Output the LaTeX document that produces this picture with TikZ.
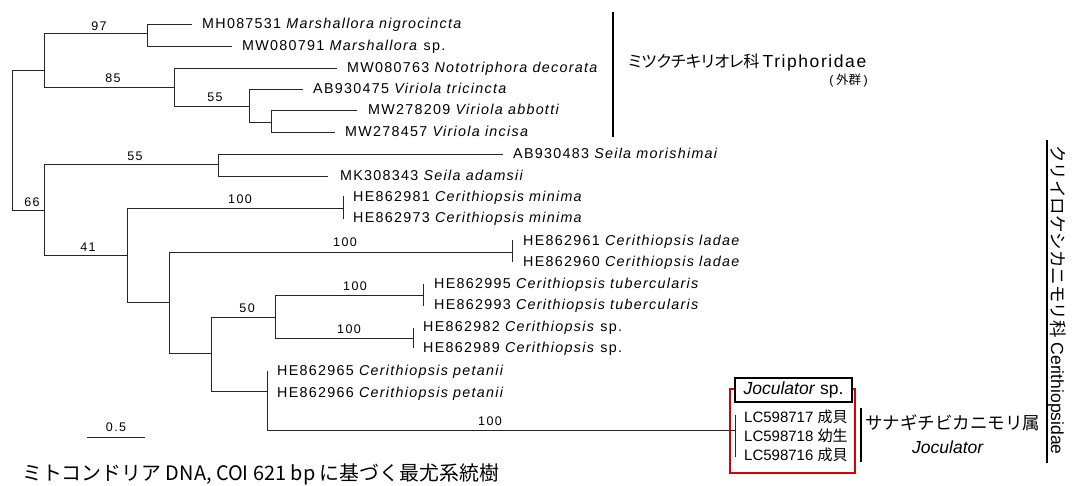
\documentclass[tikz,border=0pt]{standalone}
\usepackage{fontspec}
\setmainfont{Liberation Sans}
\newfontfamily\jp{Noto Sans CJK JP}
\newfontfamily\jpp[RawFeature=+palt]{Noto Sans CJK JP}
\newfontfamily\bsfont[LetterSpace=12]{Liberation Sans}
\newfontfamily\lsfont[LetterSpace=9]{Liberation Sans}
\begin{document}
\begin{tikzpicture}[x=1pt,y=-1pt,
  br/.style={line width=0.9pt,black!85},
  bar/.style={line width=1.8pt,black},
  leaf/.style={anchor=base west,inner sep=0pt,font=\lsfont\fontsize{14.3}{14.3}\selectfont},
  bs/.style={anchor=base,inner sep=0pt,font=\bsfont\fontsize{12.5}{12.5}\selectfont},
  big/.style={inner sep=0pt,font=\fontsize{17.5}{17.5}\selectfont},
  lc/.style={anchor=base west,inner sep=0pt,font=\fontsize{15}{15}\selectfont}]
\useasboundingbox (0,0) rectangle (1074,486);
% ---------- internal node coordinates (attach point, top, bottom)
\coordinate (Rt) at (12,70);   \coordinate (Rb) at (12,210);
\coordinate (A)  at (44,70);   \coordinate (At) at (44,33);   \coordinate (Ab) at (44,87);
\coordinate (A1) at (147,33);  \coordinate (A1t) at (147,24); \coordinate (A1b) at (147,46);
\coordinate (A2) at (174,87);  \coordinate (A2t) at (174,68); \coordinate (A2b) at (174,106);
\coordinate (A3) at (249,106); \coordinate (A3t) at (249,89); \coordinate (A3b) at (249,122);
\coordinate (A4) at (271,122); \coordinate (A4t) at (271,110);\coordinate (A4b) at (271,132);
\coordinate (B)  at (44,210);  \coordinate (Bt) at (44,164);  \coordinate (Bb) at (44,255);
\coordinate (B1) at (218,164); \coordinate (B1t) at (218,154);\coordinate (B1b) at (218,176);
\coordinate (B2) at (127,255); \coordinate (B2t) at (127,208);\coordinate (B2b) at (127,302);
\coordinate (B3) at (343,208); \coordinate (B3t) at (343,196);\coordinate (B3b) at (343,219);
\coordinate (B4) at (169,302); \coordinate (B4t) at (169,252);\coordinate (B4b) at (169,353);
\coordinate (B5) at (512,252); \coordinate (B5t) at (512,240);\coordinate (B5b) at (512,262);
\coordinate (B6) at (211,353); \coordinate (B6t) at (211,317);\coordinate (B6b) at (211,391);
\coordinate (B7) at (275,317); \coordinate (B7t) at (275,295);\coordinate (B7b) at (275,338);
\coordinate (B8) at (423,295); \coordinate (B8t) at (423,284);\coordinate (B8b) at (423,306);
\coordinate (B9) at (413,338); \coordinate (B9t) at (413,328);\coordinate (B9b) at (413,348);
\coordinate (B10) at (267,391);\coordinate (B10t) at (267,371);\coordinate (B10b) at (267,430);
\coordinate (B11) at (735,430);\coordinate (B11t) at (735,415);\coordinate (B11b) at (735,457);
% leaf tips
\coordinate (l1) at (192,24);  \coordinate (l2) at (232,46);
\coordinate (l3) at (337,68);  \coordinate (l4) at (303,89);
\coordinate (l5) at (357,110); \coordinate (l6) at (335,132);
\coordinate (l7) at (503,154); \coordinate (l8) at (328,176);
% ---------- verticals
\foreach \n in {R,A,A1,A2,A3,A4,B,B1,B2,B3,B4,B5,B6,B7,B8,B9,B10,B11}
  \draw[br] (\n t) -- (\n b);
% ---------- horizontals between nodes
\draw[br] (Rt) -- (A);
\draw[br] (Rb) -- (B);
\draw[br] (At |- A1) -- (A1);
\draw[br] (At |- A2) -- (A2);
\draw[br] (A2t |- A3) -- (A3);
\draw[br] (A3t |- A4) -- (A4);
\draw[br] (Bt |- B1) -- (B1);
\draw[br] (Bt |- B2) -- (B2);
\draw[br] (B2t |- B3) -- (B3);
\draw[br] (B2t |- B4) -- (B4);
\draw[br] (B4t |- B5) -- (B5);
\draw[br] (B4t |- B6) -- (B6);
\draw[br] (B6t |- B7) -- (B7);
\draw[br] (B7t |- B8) -- (B8);
\draw[br] (B7t |- B9) -- (B9);
\draw[br] (B6t |- B10) -- (B10);
\draw[br] (B10b) -- (B11);
% ---------- leaf branches
\draw[br] (A1t) -- (l1);
\draw[br] (A1b) -- (l2);
\draw[br] (A2t) -- (l3);
\draw[br] (A3t) -- (l4);
\draw[br] (A4t) -- (l5);
\draw[br] (A4b) -- (l6);
\draw[br] (B1t) -- (l7);
\draw[br] (B1b) -- (l8);
% ---------- leaf labels
\node[leaf] (t1) at (202,29) {MH087531 \textit{Marshallora nigrocincta}};
\node[leaf] (t2) at (242,51) {MW080791 \textit{Marshallora} sp.};
\node[leaf] (t3) at (347,73) {MW080763 \textit{Nototriphora decorata}};
\node[leaf] (t4) at (313,94) {AB930475 \textit{Viriola tricincta}};
\node[leaf] (t5) at (368,115) {MW278209 \textit{Viriola abbotti}};
\node[leaf] (t6) at (345,137) {MW278457 \textit{Viriola incisa}};
\node[leaf] (t7) at (513,159) {AB930483 \textit{Seila morishimai}};
\node[leaf] (t8) at (340,181) {MK308343 \textit{Seila adamsii}};
\node[leaf] (t9) at (353,202) {HE862981 \textit{Cerithiopsis minima}};
\node[leaf] (t10) at (353,223) {HE862973 \textit{Cerithiopsis minima}};
\node[leaf] (t11) at (523,246) {HE862961 \textit{Cerithiopsis ladae}};
\node[leaf] (t12) at (523,267) {HE862960 \textit{Cerithiopsis ladae}};
\node[leaf] (t13) at (434,289) {HE862995 \textit{Cerithiopsis tubercularis}};
\node[leaf] (t14) at (434,310) {HE862993 \textit{Cerithiopsis tubercularis}};
\node[leaf] (t15) at (423,332) {HE862982 \textit{Cerithiopsis} sp.};
\node[leaf] (t16) at (423,353) {HE862989 \textit{Cerithiopsis} sp.};
\node[leaf] (t17) at (277,376) {HE862965 \textit{Cerithiopsis petanii}};
\node[leaf] (t18) at (277,397) {HE862966 \textit{Cerithiopsis petanii}};
% ---------- bootstrap values
\node[bs] (s1) at (99,30.5) {97};
\node[bs] (s2) at (113,82.5) {85};
\node[bs] (s3) at (215,101.5) {55};
\node[bs] (s4) at (135,160.5) {55};
\node[bs] (s5) at (32,206.5) {66};
\node[bs] (s6) at (240,203.5) {100};
\node[bs] (s7) at (88,251.5) {41};
\node[bs] (s8) at (345,246.5) {100};
\node[bs] (s9) at (247,312.5) {50};
\node[bs] (s10) at (355,290.5) {100};
\node[bs] (s11) at (349,333.5) {100};
\node[bs] (s12) at (490,425.5) {100};
% ---------- scale bar
\coordinate (sbl) at (87,437); \coordinate (sbr) at (145,437);
\draw[br] (sbl) -- (sbr);
\node[bs] (sbt) at (116,431.5) {0.5};
% ---------- Joculator box
\draw[red!85!black, line width=1.8pt] (730,389) rectangle (855,473);
\node[draw, line width=2pt, fill=white, minimum width=117pt, minimum height=24pt,
      inner sep=0pt, font=\fontsize{17.5}{17.5}\selectfont] (jsp) at (793.5,390)
      {\textit{Joculator} sp.};
\node[lc] (j1) at (744,422.4) {LC598717 {\jp 成貝}};
\node[lc] (j2) at (744,441.4) {LC598718 {\jp 幼生}};
\node[lc] (j3) at (744,460.4) {LC598716 {\jp 成貝}};
% ---------- group bars and labels
\coordinate (g1t) at (613,12);  \coordinate (g1b) at (613,137);
\draw[bar] (g1t) -- (g1b);
\node[anchor=base west,inner sep=0pt,font=\fontsize{16.2}{16.2}\selectfont] (g1) at (628,68)
  {{\jpp ミツクチキリオレ科}\hspace{3pt}{\lsfont\fontsize{17.5}{17.5}\selectfont Triphoridae}};
\node[anchor=base east,inner sep=0pt,font=\fontsize{12.5}{12.5}\selectfont] (g1s) at (868,85)
  {(\hspace{2.5pt}{\jp 外群}\hspace{2.5pt})};
\coordinate (g2t) at (861,408); \coordinate (g2b) at (861,462);
\draw[bar] (g2t) -- (g2b);
\node[big,anchor=base west] (g2) at (865,429) {{\jp サナギチビカニモリ属}};
\node[big,anchor=base] (g2s) at (948,453) {\textit{Joculator}};
\coordinate (g3t) at (1047,140); \coordinate (g3b) at (1047,463);
\draw[bar] (g3t) -- (g3b);
\node[big,anchor=base,rotate=-90] (g3) at (1051,300)
  {{\jp クリイロケシカニモリ科} Cerithiopsidae};
% ---------- caption
\node[anchor=base west,inner sep=0pt,font=\jp\fontsize{19.9}{19.9}\selectfont] (cap) at (22,480)
  {ミトコンドリア DNA, COI 621 bp に基づく最尤系統樹};
\end{tikzpicture}
\end{document}
